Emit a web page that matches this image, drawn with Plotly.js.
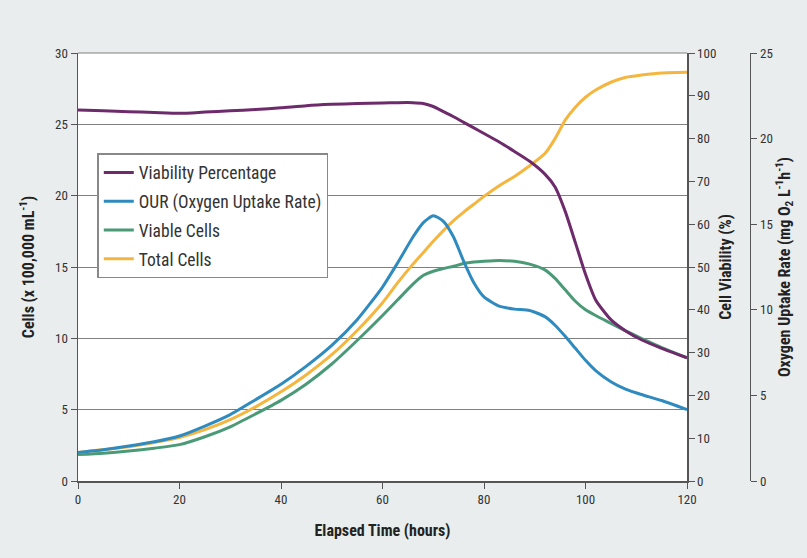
<!DOCTYPE html>
<html><head><meta charset="utf-8">
<script src="https://cdn.plot.ly/plotly-3.0.1.min.js"></script>
<style>html,body{margin:0;padding:0;background:#e9edee;}</style>
</head><body>
<div id="chart" style="width:807px;height:558px;"></div>
<script>
const hours = [0,5,10,15,20,25,30,35,40,45,50,55,60,63,66,68,70,72,74,76,78,80,83,86,89,92,94,96,98,100,102,105,108,111,115,120];
const viabilityPct = [86.7,86.5,86.3,86.1,85.9,86.2,86.5,86.8,87.2,87.7,88.0,88.2,88.3,88.4,88.4,88.2,87.5,86.3,85.1,83.8,82.5,81.2,79.2,77.0,74.7,71.7,68.7,63.0,55.7,48.3,42.3,37.7,35.0,33.0,31.0,28.8];
const ourRate = [1.67,1.83,2.04,2.29,2.63,3.21,3.88,4.75,5.65,6.71,7.92,9.42,11.33,12.75,14.25,15.08,15.5,15.17,14.25,12.83,11.58,10.75,10.21,10.04,9.96,9.6,9.1,8.45,7.75,7.05,6.45,5.8,5.35,5.05,4.7,4.17];
const viableCells = [1.85,1.95,2.1,2.3,2.55,3.1,3.8,4.7,5.65,6.8,8.2,9.85,11.6,12.7,13.8,14.4,14.7,14.9,15.05,15.25,15.35,15.4,15.45,15.4,15.2,14.8,14.2,13.4,12.6,12.0,11.6,11.05,10.5,10.0,9.35,8.65];
const totalCells = [2.0,2.2,2.4,2.7,3.05,3.6,4.3,5.2,6.25,7.45,8.85,10.55,12.5,13.9,15.2,16.0,16.8,17.55,18.25,18.85,19.4,19.95,20.7,21.35,22.1,22.95,24.0,25.3,26.2,26.9,27.4,27.95,28.3,28.45,28.6,28.65];
const seriesNames = ["Viability Percentage","OUR (Oxygen Uptake Rate)","Viable Cells","Total Cells"];
const xTicks = [0,20,40,60,80,100,120];

const FONT = "Liberation Sans Narrow, Roboto Condensed, Roboto, sans-serif";
const line = (c) => ({color:c, width:3, shape:'spline', smoothing:0.6});

const traces = [
  {x:hours, y:viabilityPct, name:seriesNames[0], yaxis:'y2', mode:'lines', line:line('#6e2b6c'), legendgroup:'a'},
  {x:hours, y:ourRate, name:seriesNames[1], yaxis:'y3', mode:'lines', line:line('#2f8bbf'), legendgroup:'b'},
  {x:hours, y:viableCells, name:seriesNames[2], yaxis:'y', mode:'lines', line:line('#4b9a77'), legendgroup:'c'},
  {x:hours, y:totalCells, name:seriesNames[3], yaxis:'y', mode:'lines', line:line('#f4b63e'), legendgroup:'d'}
];

const tickFont = {family:FONT, size:13, color:'#333'};
const titleFont = {family:FONT, size:16, color:'#222'};

const layout = {
  width:807, height:558,
  paper_bgcolor:'#e9edee', plot_bgcolor:'#ffffff',
  margin:{l:78, r:40, t:53, b:77},
  showlegend:true,
  legend:{x:0.028, y:0.766, xanchor:'left', yanchor:'top', bgcolor:'#ffffff', bordercolor:'#888', borderwidth:1.5,
          font:{family:FONT, size:17.5, color:'#333'}, traceorder:'grouped', tracegroupgap:3},
  xaxis:{domain:[0,0.8839], range:[0,120], tickvals:xTicks, ticks:'outside', ticklen:6, tickcolor:'#555',
         showline:true, linecolor:'#555', linewidth:1.5, showgrid:false, zeroline:false,
         tickfont:tickFont, title:{text:'<b>Elapsed Time (hours)</b>', font:titleFont, standoff:18}},
  yaxis:{range:[0,30], dtick:5, ticks:'outside', ticklen:6, tickcolor:'#555', showline:true, linecolor:'#555', linewidth:1.5,
         showgrid:true, gridcolor:'#808080', gridwidth:1, zeroline:false, tickfont:tickFont,
         title:{text:'<b>Cells (x 100,000 mL<sup>-1</sup>)</b>', font:titleFont, standoff:16}},
  yaxis2:{overlaying:'y', side:'right', anchor:'x', range:[0,100], dtick:10, ticks:'outside', ticklen:6, tickcolor:'#555',
          showline:true, linecolor:'#555', linewidth:1.5, showgrid:false, zeroline:false, tickfont:tickFont,
          title:{text:'<b>Cell Viability (%)</b>', font:titleFont, standoff:4}},
  yaxis3:{overlaying:'y', side:'right', anchor:'free', position:0.9753, range:[0,25], dtick:5, ticks:'outside', ticklen:6, tickcolor:'#555',
          showline:true, linecolor:'#555', linewidth:1.5, showgrid:false, zeroline:false, tickfont:tickFont,
          title:{text:'<b>Oxygen Uptake Rate (mg O<sub>2</sub> L<sup>-1</sup>h<sup>-1</sup>)</b>', font:titleFont, standoff:6}},
  shapes:[{type:'line', xref:'x domain', yref:'y domain', x0:0, x1:1, y0:1, y1:1, line:{color:'#808080', width:1}}]
};

Plotly.newPlot('chart', traces, layout, {displayModeBar:false, staticPlot:true});
</script>
</body></html>
